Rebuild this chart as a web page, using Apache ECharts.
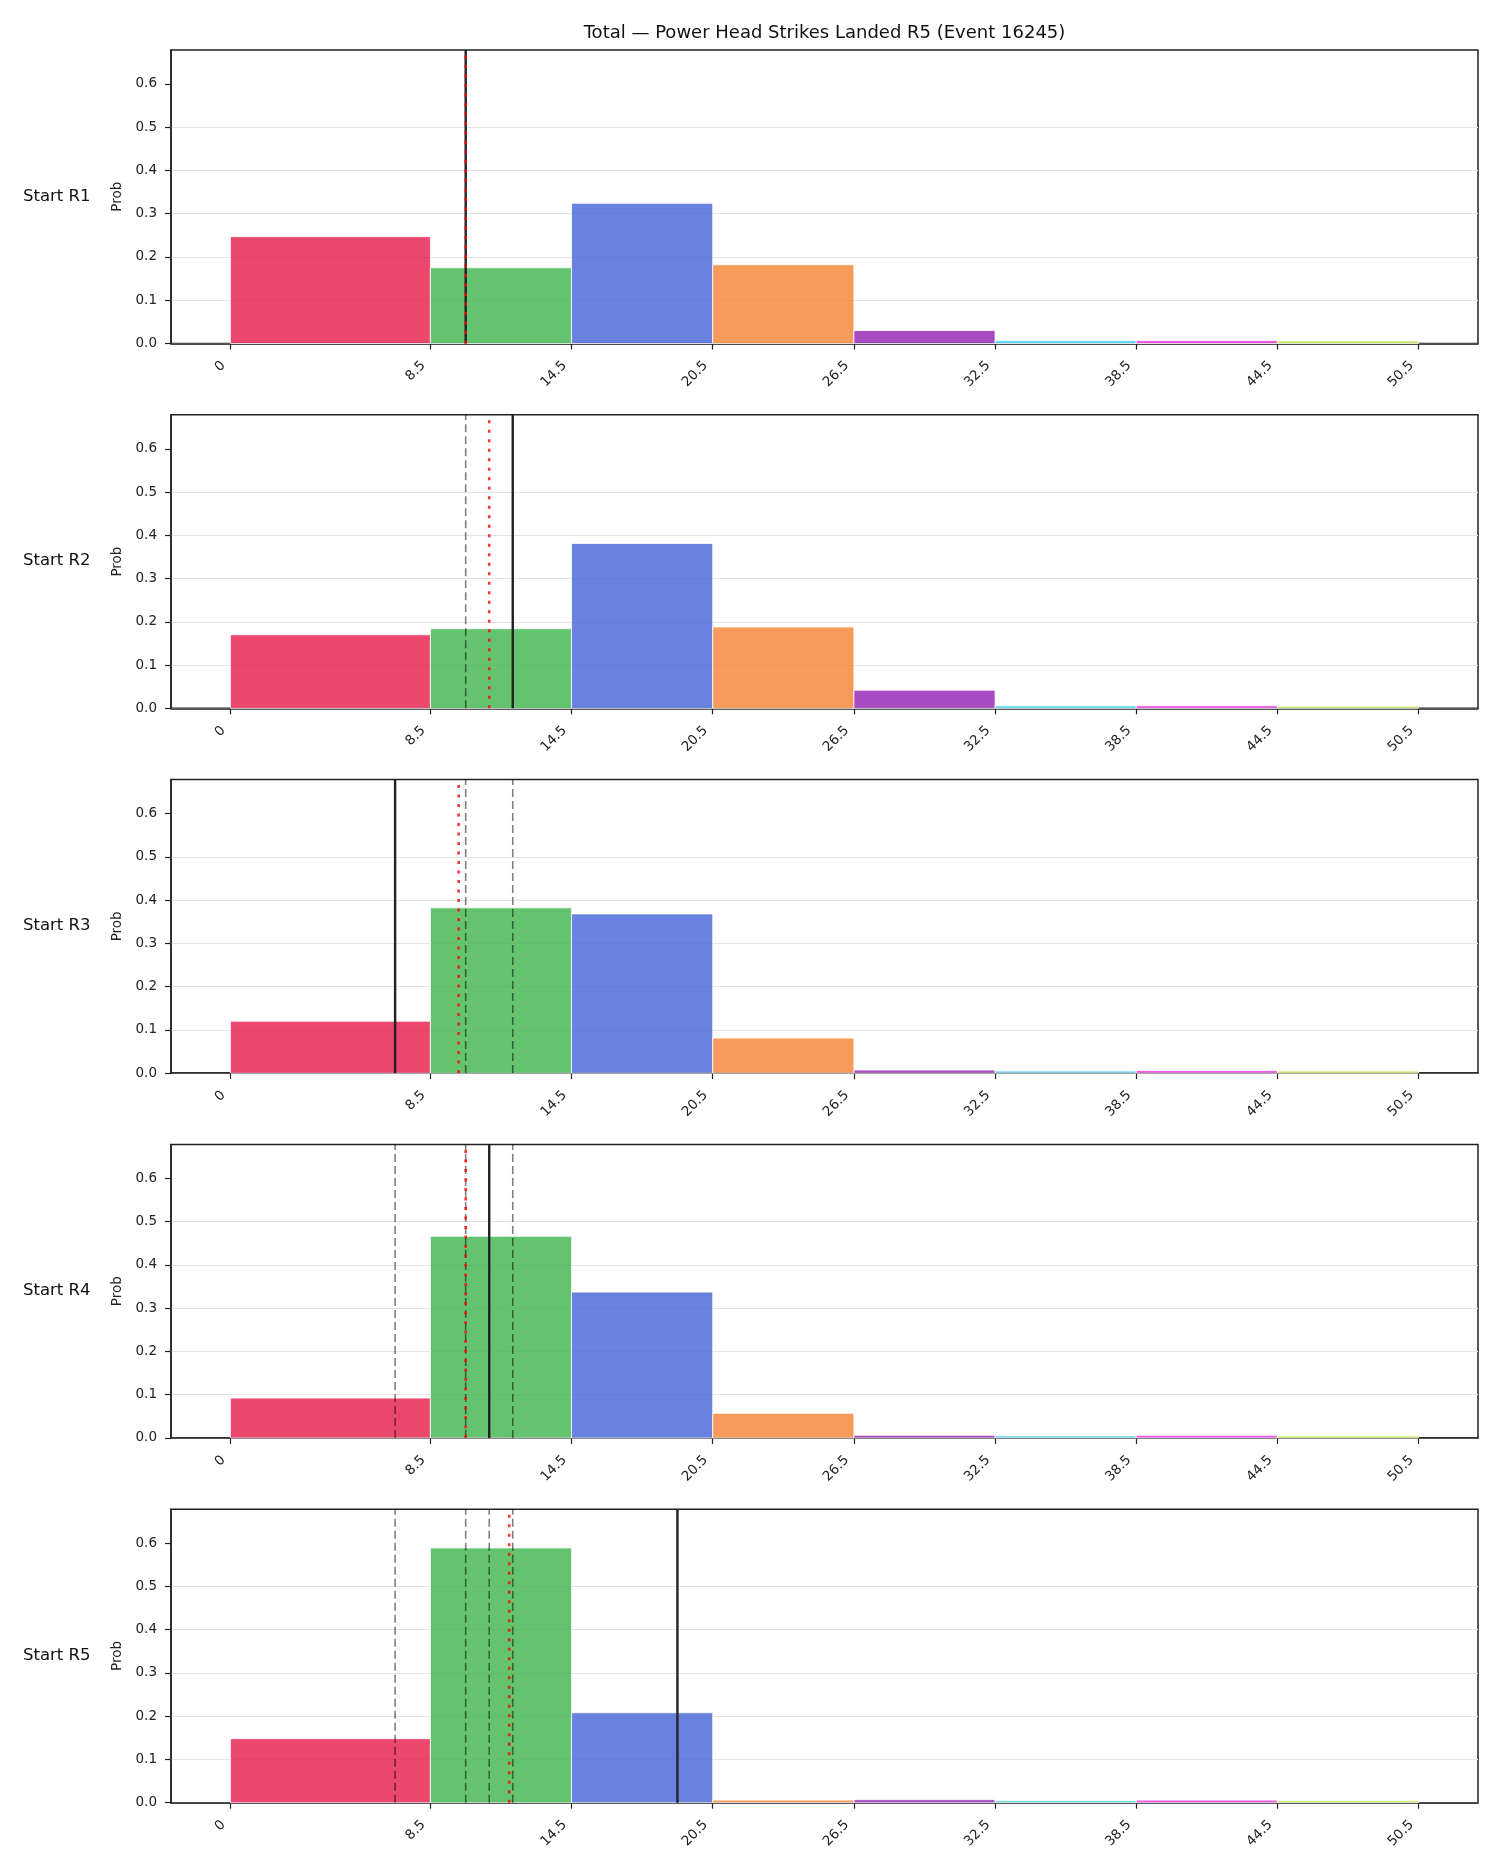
<!DOCTYPE html>
<html>
<head>
<meta charset="utf-8">
<script src="https://cdn.jsdelivr.net/npm/echarts@6/dist/echarts.min.js"></script>
<style>
  html, body { margin: 0; padding: 0; background: #fff; }
  #chart { width: 1500px; height: 1875px; }
</style>
</head>
<body>
<div id="chart"></div>
<script>
// bins of the histogram (strikes landed)
let binStart = [0, 8.5, 14.5, 20.5, 26.5, 32.5, 38.5, 44.5];
let binEnd = [8.5, 14.5, 20.5, 26.5, 32.5, 38.5, 44.5, 50.5];
let tickValues = [0, 8.5, 14.5, 20.5, 26.5, 32.5, 38.5, 44.5, 50.5];
let yTicks = [0, 0.1, 0.2, 0.3, 0.4, 0.5, 0.6];
let binColors = ['#e6194b', '#3cb44b', '#4363d8', '#f58231', '#911eb4', '#42d4f4', '#f032e6', '#bfef45'];

let rowNames = ['Start R1', 'Start R2', 'Start R3', 'Start R4', 'Start R5'];
let probR1 = [0.247, 0.175, 0.324, 0.182, 0.030, 0.007, 0.007, 0.006];
let probR2 = [0.170, 0.184, 0.381, 0.188, 0.042, 0.006, 0.006, 0.005];
let probR3 = [0.120, 0.382, 0.368, 0.081, 0.007, 0.005, 0.006, 0.005];
let probR4 = [0.092, 0.466, 0.337, 0.057, 0.006, 0.005, 0.006, 0.005];
let probR5 = [0.148, 0.589, 0.208, 0.006, 0.007, 0.005, 0.006, 0.005];
let probs = [probR1, probR2, probR3, probR4, probR5];

// solid line = actual of that round, red dotted = mean
let actuals = [10, 12, 7, 11, 19];
let means = [10, 11, 9.7, 10, 11.85];

let yMax = 0.6785;
let font = 'DejaVu Sans';

let chart = echarts.init(document.getElementById('chart'), null, { renderer: 'canvas' });

let grids = [], xAxes = [], yAxes = [], series = [], graphics = [];
let top0 = 50, step = 364.8, h = 293.5;

function vline(i, x, style, z) {
    return {
        type: 'line',
        xAxisIndex: i,
        yAxisIndex: i,
        data: [[x, 0], [x, yMax]],
        symbol: 'none',
        silent: true,
        animation: false,
        z: z,
        lineStyle: style
    };
}

for (let i = 0; i < 5; i++) {
    let top = top0 + i * step;
    grids.push({
        left: 171, right: 22, top: top, height: h,
        show: true, borderColor: '#222', borderWidth: 1.5, backgroundColor: 'transparent'
    });
    xAxes.push({
        type: 'value', gridIndex: i, min: -2.525, max: 53.025,
        axisLine: { show: true, onZero: false, lineStyle: { color: '#222', width: 1.5 } },
        axisTick: { show: true, length: 6, customValues: tickValues, lineStyle: { color: '#222', width: 1.2 } },
        axisLabel: {
            customValues: tickValues, rotate: 45, margin: 13, padding: [0, 10, 0, 0],
            fontFamily: font, fontSize: 13.5, color: '#222',
            formatter: v => String(v)
        },
        splitLine: { show: false }
    });
    yAxes.push({
        type: 'value', gridIndex: i, min: 0, max: yMax, interval: 0.1,
        name: 'Prob', nameLocation: 'middle', nameGap: 47,
        nameTextStyle: { fontFamily: font, fontSize: 13.5, color: '#222' },
        axisLine: { show: true, onZero: false, lineStyle: { color: '#222', width: 1.5 } },
        axisTick: { show: true, length: 6, customValues: yTicks, lineStyle: { color: '#222', width: 1.2 } },
        axisLabel: {
            margin: 14, showMaxLabel: false,
            fontFamily: font, fontSize: 13.5, color: '#222',
            formatter: v => v.toFixed(1)
        },
        splitLine: { show: true, showMaxLine: false, lineStyle: { color: '#e4e4e4', width: 1 } }
    });

    let rows = binStart.map((s, k) => [s, binEnd[k], probs[i][k]]);
    series.push({
        type: 'custom',
        xAxisIndex: i,
        yAxisIndex: i,
        data: rows,
        encode: { x: [0, 1], y: 2 },
        animation: false,
        z: 2,
        renderItem: function (params, api) {
            let p0 = api.coord([api.value(0), api.value(2)]);
            let p1 = api.coord([api.value(1), 0]);
            return {
                type: 'rect',
                shape: { x: p0[0], y: p0[1], width: p1[0] - p0[0], height: p1[1] - p0[1] },
                style: { fill: binColors[params.dataIndex], opacity: 0.8, stroke: '#fff', lineWidth: 1 }
            };
        }
    });

    // earlier rounds' actuals, dashed
    for (let j = 0; j < i; j++) {
        series.push(vline(i, actuals[j], { color: 'rgba(0,0,0,0.5)', width: 1.6, type: [8, 4] }, 3));
    }
    series.push(vline(i, actuals[i], { color: '#222', width: 2.4, type: 'solid' }, 4));
    series.push(vline(i, means[i], { color: 'rgba(255,0,0,0.8)', width: 2.6, type: [3, 6.5] }, 5));

    graphics.push({
        type: 'text',
        left: 23,
        top: top + h / 2 - 9,
        style: { text: rowNames[i], fontFamily: font, fontSize: 16.5, fill: '#111' }
    });
}

let option = {
    backgroundColor: '#fff',
    animation: false,
    title: {
        text: 'Total \u2014 Power Head Strikes Landed R5 (Event 16245)',
        left: 824.5,
        top: 24.5,
        padding: 0,
        textAlign: 'center',
        textStyle: { fontFamily: font, fontSize: 18, fontWeight: 'normal', color: '#111' }
    },
    grid: grids,
    xAxis: xAxes,
    yAxis: yAxes,
    series: series,
    graphic: graphics
};

chart.setOption(option);
</script>
</body>
</html>
